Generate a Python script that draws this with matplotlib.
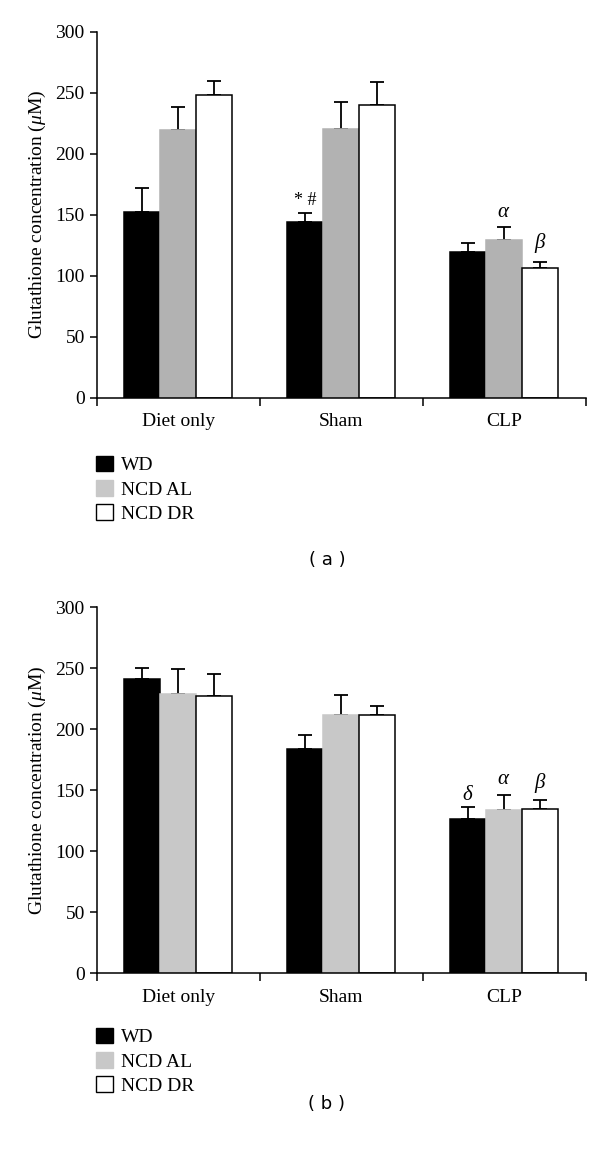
import numpy as np
import matplotlib
matplotlib.use("Agg")
import matplotlib.pyplot as plt
from matplotlib.patches import Patch

plt.rcParams['font.family'] = ['Liberation Serif', 'DejaVu Serif']
plt.rcParams['mathtext.fontset'] = 'custom'
plt.rcParams['mathtext.rm'] = 'Liberation Serif'
plt.rcParams['mathtext.it'] = 'Liberation Serif:italic'

categories = ['Diet only', 'Sham', 'CLP']
groups = ['WD', 'NCD AL', 'NCD DR']

# panel (a)
a_wd = [152.5, 144.0, 119.0]
a_wd_err = [19.0, 7.5, 8.0]
a_al = [219.0, 220.0, 129.0]
a_al_err = [19.0, 22.0, 10.5]
a_dr = [248.5, 239.5, 106.5]
a_dr_err = [11.0, 19.0, 5.0]

# panel (b)
b_wd = [241.0, 184.0, 126.5]
b_wd_err = [9.0, 11.5, 10.0]
b_al = [229.0, 211.5, 133.5]
b_al_err = [20.5, 16.5, 13.0]
b_dr = [227.0, 212.0, 134.5]
b_dr_err = [18.0, 7.5, 7.5]

# significance marks: (category, group, label, y)
a_marks = [(1, 0, '* #', 162), (2, 1, r'$\alpha$', 152), (2, 2, r'$\beta$', 127)]
b_marks = [(2, 0, r'$\delta$', 146), (2, 1, r'$\alpha$', 159), (2, 2, r'$\beta$', 156)]

fig = plt.figure(figsize=(6, 11.52), dpi=100)

w = 0.22
x = np.arange(len(categories))


def panel(rect, series, errs, gray, marks, letter, legend_y, letter_y):
    ax = fig.add_axes(rect)
    fills = ['black', gray, 'white']
    edges = ['black', gray, 'black']
    for i in range(3):
        pos = x + (i - 1) * w
        ax.bar(pos, series[i], width=w, color=fills[i], edgecolor=edges[i],
               linewidth=1.1, zorder=2)
        ax.errorbar(pos, series[i], yerr=[np.zeros(3), errs[i]], fmt='none',
                    ecolor='black', elinewidth=1.3, capsize=4.7, capthick=1.3,
                    zorder=1)
    for c, g, lab, yy in marks:
        ax.text(x[c] + (g - 1) * w, yy, lab, ha='center', va='center',
                fontsize=15 if lab != '* #' else 13)
    ax.set_xlim(-0.5, 2.5)
    ax.set_ylim(0, 300)
    ax.set_yticks(range(0, 301, 50))
    ax.set_xticks(x)
    ax.set_xticklabels(categories, fontsize=14)
    ax.set_xticks([-0.5, 0.5, 1.5, 2.5], minor=True)
    ax.tick_params(axis='x', which='major', length=0, pad=11)
    ax.tick_params(axis='x', which='minor', length=6, width=1.1, direction='out')
    ax.tick_params(axis='y', labelsize=14, length=5, width=1.1, direction='out')
    for s in ['top', 'right']:
        ax.spines[s].set_visible(False)
    for s in ['left', 'bottom']:
        ax.spines[s].set_linewidth(1.1)
    ax.set_ylabel(r'Glutathione concentration ($\mu$M)', fontsize=14, labelpad=5)
    handles = [Patch(facecolor='black', edgecolor='black'),
               Patch(facecolor='#c8c8c8', edgecolor='#c8c8c8'),
               Patch(facecolor='white', edgecolor='black')]
    fig.legend(handles, groups, loc='upper left', bbox_to_anchor=(0.147, legend_y),
               frameon=False, fontsize=14, handlelength=0.85, handleheight=0.85,
               handletextpad=0.45, labelspacing=0.3, borderaxespad=0)
    fig.text(0.545, letter_y, '( %s )' % letter, ha='center', va='center',
             fontsize=13, family='DejaVu Sans')
    return ax


panel([0.161, 0.6548, 0.815, 0.3177], [a_wd, a_al, a_dr],
      [a_wd_err, a_al_err, a_dr_err], '#b2b2b2', a_marks, 'a',
      1 - 448 / 1152, 1 - 560 / 1152)
panel([0.161, 0.1551, 0.815, 0.3177], [b_wd, b_al, b_dr],
      [b_wd_err, b_al_err, b_dr_err], '#c8c8c8', b_marks, 'b',
      1 - 1020 / 1152, 1 - 1104 / 1152)

fig.savefig('out.png', dpi=100)
